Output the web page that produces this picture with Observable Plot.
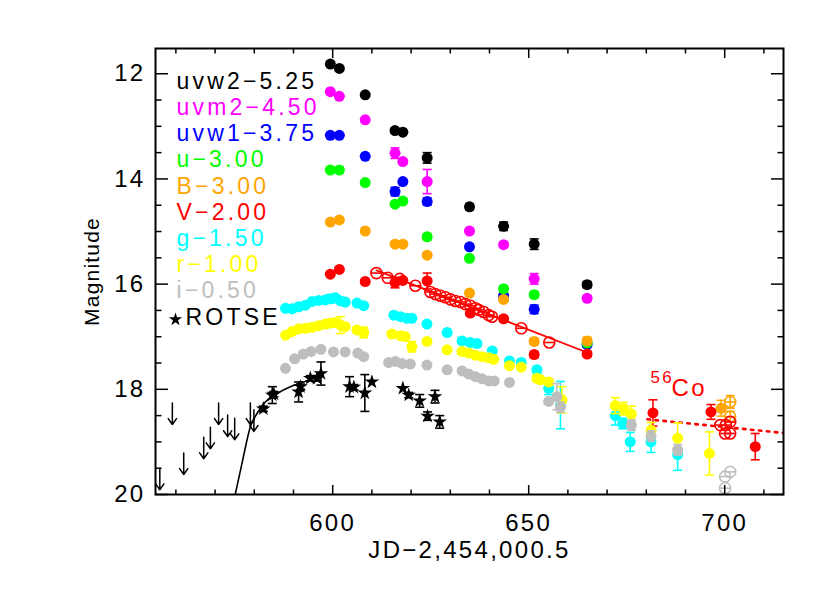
<!DOCTYPE html>
<html><head><meta charset="utf-8">
<script src="https://cdn.jsdelivr.net/npm/d3@7"></script>
<script src="https://cdn.jsdelivr.net/npm/@observablehq/plot@0.6"></script>
<style>
body{margin:0;background:#fff;}
svg text{letter-spacing:2.3px;}
</style></head>
<body><div id="chart"></div>
<script>
// ---- data (plotted magnitudes, offsets already applied) ----
const uvw2T = [599.4, 601.7, 608.3, 615.9, 617.9, 624.1, 634.9, 643.6, 651.4, 664.9];
const uvw2M = [11.815, 11.90, 12.40, 13.08, 13.11, 13.60, 14.53, 14.90, 15.24, 16.01];
const uvw2E = [0, 0, 0, 0.04, 0, 0.1, 0.06, 0.08, 0.1, 0.06];

const uvm2T = [599.4, 601.7, 608.3, 615.9, 617.9, 624.1, 634.9, 643.6, 651.4, 664.9];
const uvm2M = [12.34, 12.43, 12.875, 13.51, 13.67, 14.05, 14.99, 15.25, 15.90, 16.27];
const uvm2E = [0, 0, 0, 0.1, 0, 0.23, 0.05, 0.05, 0.1, 0.05];

const uvw1T = [599.4, 601.7, 608.3, 615.9, 617.9, 624.1, 634.9, 643.6, 651.4, 664.9];
const uvw1M = [13.17, 13.17, 13.57, 14.24, 14.05, 14.43, 15.29, 16.22, 16.48, 17.15];
const uvw1E = [0, 0, 0, 0.08, 0, 0.07, 0.05, 0, 0.08, 0];

const uT = [599.4, 601.7, 608.3, 615.9, 617.9, 624.1, 634.9, 643.6, 651.4, 664.9];
const uM = [13.83, 13.83, 14.07, 14.48, 14.42, 15.10, 15.51, 16.09, 16.20, 17.12];
const uE = [0, 0, 0, 0, 0, 0.06, 0.05, 0.06, 0.06, 0];

const bT = [599.4, 601.7, 608.3, 615.9, 617.9, 624.1, 634.9, 643.6, 651.4, 664.9, 699.1];
const bM = [14.82, 14.78, 14.99, 15.24, 15.24, 15.45, 16.17, 16.29, 17.09, 17.08, 18.36];
const bE = [0, 0, 0, 0, 0, 0.04, 0.05, 0.05, 0.06, 0.07, 0.15];
const bOpenT = [701.4, 701.4];
const bOpenM = [18.24, 18.52];
const bOpenE = [0.12, 0.1];

const vT = [599.4, 601.7, 608.3, 615.9, 617.9, 624.1, 635.1, 643.6, 651.4, 664.9, 681.7, 696.5, 707.8];
const vM = [15.81, 15.72, 15.95, 15.97, 15.93, 15.94, 16.55, 16.66, 17.34, 17.33, 18.45, 18.43, 19.09];
const vE = [0, 0, 0, 0.1, 0, 0.15, 0.05, 0.05, 0.06, 0.05, 0.25, 0.14, 0.25];
const vOpenT = [611.15, 614.03, 617.09, 621.09, 624.92, 626.19, 627.47, 628.74, 630.02, 631.29, 632.57, 633.84, 635.12, 636.39, 637.23, 638.51, 639.78, 640.65, 648.12, 655.26, 698.9, 700.3, 701.4, 700.1, 701.4];
const vOpenM = [15.79, 15.88, 15.90, 16.03, 16.15, 16.19, 16.22, 16.25, 16.29, 16.32, 16.34, 16.38, 16.41, 16.46, 16.49, 16.53, 16.59, 16.62, 16.84, 17.11, 18.68, 18.68, 18.62, 18.84, 18.84];

const gT = [587.95, 589.65, 591.34, 593.05, 594.75, 596.44, 598.15, 599.4, 600.7, 602.0, 603.2, 606.2, 607.9, 615.6, 617.3, 619.0, 620.2, 624.05, 629.2, 633.0, 635.1, 636.8, 640.7, 645.1, 648.1, 652.1, 655.1, 658.1, 672.1, 674.0, 675.9, 681.2, 688.0];
const gM = [16.46, 16.47, 16.43, 16.40, 16.33, 16.31, 16.30, 16.28, 16.26, 16.32, 16.34, 16.36, 16.41, 16.59, 16.62, 16.65, 16.65, 16.76, 16.92, 17.08, 17.11, 17.13, 17.27, 17.46, 17.49, 17.63, 17.98, 18.30, 18.50, 18.65, 19.00, 19.00, 19.24];
const gE = [0, 0, 0, 0, 0, 0, 0, 0.08, 0, 0, 0, 0, 0, 0, 0, 0, 0, 0, 0, 0.05, 0.05, 0.05, 0, 0.05, 0.06, 0.06, 0.12, 0.45, 0.18, 0.1, 0.18, 0.2, 0.3];

const rT = [588.0, 589.65, 591.34, 593.05, 594.75, 596.44, 598.15, 599.4, 600.7, 602.0, 603.2, 606.2, 607.9, 615.1, 617.3, 618.5, 620.2, 624.05, 629.2, 633.0, 634.7, 636.4, 638.1, 639.8, 641.1, 645.1, 648.1, 652.1, 653.0, 655.1, 658.5, 672.1, 674.2, 676.2, 681.2, 688.0, 696.1];
const rM = [16.97, 16.90, 16.85, 16.84, 16.82, 16.79, 16.76, 16.74, 16.73, 16.78, 16.81, 16.87, 16.92, 16.95, 16.98, 17.00, 17.19, 17.09, 17.25, 17.28, 17.31, 17.35, 17.38, 17.40, 17.43, 17.55, 17.58, 17.79, 17.82, 17.86, 18.20, 18.31, 18.37, 18.47, 18.78, 18.93, 19.22];
const rE = [0, 0, 0, 0, 0, 0, 0, 0, 0, 0.16, 0, 0, 0.1, 0, 0, 0, 0.1, 0, 0, 0, 0, 0, 0, 0, 0, 0, 0, 0.06, 0, 0.06, 0.25, 0.15, 0.12, 0.15, 0.15, 0.29, 0.41];

const iT = [587.95, 590.3, 592.5, 594.5, 597.0, 600.2, 603.2, 606.4, 607.9, 614.3, 616.0, 617.7, 619.8, 624.05, 629.2, 633.0, 634.7, 636.4, 638.1, 639.8, 641.2, 645.1, 655.1, 657.2, 658.1, 676.2, 681.2, 688.0];
const iM = [17.60, 17.42, 17.33, 17.28, 17.24, 17.29, 17.29, 17.31, 17.38, 17.49, 17.47, 17.51, 17.52, 17.54, 17.63, 17.65, 17.71, 17.76, 17.80, 17.84, 17.84, 17.87, 18.23, 18.14, 18.34, 18.68, 18.89, 19.15];
const iE = [0, 0, 0, 0, 0, 0, 0, 0, 0, 0, 0, 0, 0, 0, 0, 0, 0, 0, 0, 0, 0, 0, 0, 0.25, 0.1, 0.1, 0.1, 0.1];
const iOpenT = [700.1, 701.4, 700.1];
const iOpenM = [19.66, 19.57, 19.88];

const rotseT = [582.3, 584.6, 585.0, 591.3, 591.8, 594.3, 596.0, 597.0, 604.3, 605.4, 608.2, 610.0, 617.9, 619.4, 622.2, 624.2, 626.1, 627.3];
const rotseM = [18.37, 18.11, 18.09, 18.05, 17.95, 17.79, 17.79, 17.70, 17.95, 17.96, 18.07, 17.86, 17.98, 18.11, 18.22, 18.51, 18.14, 18.62];
const rotseE = [0.05, 0.16, 0.05, 0.19, 0.05, 0.05, 0.05, 0.22, 0.19, 0.05, 0.35, 0, 0, 0.05, 0.12, 0.08, 0.12, 0.12];

const limT = [555.9, 559.1, 562.0, 567.1, 568.8, 570.9, 573.2, 575.0, 579.0, 579.9];
const limM = [19.50, 18.26, 19.21, 18.91, 18.72, 18.26, 18.49, 18.55, 18.26, 18.39];

const riseT = [575.2, 577.0, 579.0, 580.7, 582.8, 585.8, 589.2, 592.6, 595.2];
const riseM = [19.98, 19.36, 18.71, 18.46, 18.24, 18.08, 17.95, 17.86, 17.79];

const fitT = [611.2, 664.9];
const fitM = [15.74, 17.30];
const coT = [680.3, 715.0];
const coM = [18.57, 18.83];

const legendLabels = ["uvw2−5.25", "uvm2−4.50", "uvw1−3.75", "u−3.00", "B−3.00", "V−2.00", "g−1.50", "r−1.00", "i−0.50"];
const legendColors = ["#000000", "#ff00ff", "#0000ff", "#00ff00", "#ffa500", "#ff0000", "#00ffff", "#ffff00", "#bebebe"];

const xMajorTicks = [600, 650, 700];
const xMinorTicks = [560, 570, 580, 590, 610, 620, 630, 640, 660, 670, 680, 690, 710];
const yMajorTicks = [12, 14, 16, 18, 20];
const yMinorTicks = [12.5, 13, 13.5, 14.5, 15, 15.5, 16.5, 17, 17.5, 18.5, 19, 19.5];

// ---- helpers ----
const cap = {draw(ctx, size) { const r = Math.sqrt(size / Math.PI); ctx.moveTo(-r, 0); ctx.lineTo(r, 0); }};
const rows = (t, m, e) => t.map((x, i) => ({t: x, m: m[i], e: e ? e[i] : 0}));

function errMarks(d, color) {
  const de = d.filter(r => r.e > 0);
  return [
    Plot.ruleX(de, {x: "t", y1: r => r.m - r.e, y2: r => r.m + r.e, stroke: color, strokeWidth: 1.6}),
    Plot.dot(de, {x: "t", y: r => r.m - r.e, symbol: cap, r: 4.5, stroke: color, fill: "none", strokeWidth: 1.6}),
    Plot.dot(de, {x: "t", y: r => r.m + r.e, symbol: cap, r: 4.5, stroke: color, fill: "none", strokeWidth: 1.6})
  ];
}
function filled(t, m, e, color) {
  const d = rows(t, m, e);
  return [...errMarks(d, color), Plot.dot(d, {x: "t", y: "m", r: 5.5, fill: color, stroke: "none"})];
}
function open(t, m, e, color) {
  const d = rows(t, m, e);
  return [...errMarks(d, color),
    Plot.dot(d, {x: "t", y: "m", r: 5.5, fill: "none", stroke: color, strokeWidth: 1.6}),
    Plot.dot(d, {x: "t", y: "m", symbol: cap, r: 5, fill: "none", stroke: color, strokeWidth: 1.6})];
}

const rotse = rows(rotseT, rotseM, rotseE);
const lims = rows(limT, limM);

const legendMarks = legendLabels.map((lab, i) => Plot.text([lab], {
  frameAnchor: "top-left", dx: 21, dy: 33 + 26.2 * i, textAnchor: "start", lineAnchor: "middle",
  fill: legendColors[i], fontSize: 23
}));

const chart = Plot.plot({
  width: 830, height: 593,
  marginLeft: 155, marginRight: 47, marginTop: 48, marginBottom: 99,
  x: {domain: [554.8, 715.0]},
  y: {domain: [20, 11.52]},
  style: {fontFamily: "'Liberation Sans', Arial, Helvetica, sans-serif", background: "#fff", color: "#000"},
  marks: [
    // curves
    Plot.line(rows(riseT, riseM), {x: "t", y: "m", curve: "monotone-x", stroke: "#000", strokeWidth: 1.6, clip: true}),
    Plot.line(rows(fitT, fitM), {x: "t", y: "m", stroke: "#ff0000", strokeWidth: 1.8}),
    Plot.line(rows(coT, coM), {x: "t", y: "m", stroke: "#ff0000", strokeWidth: 2.6, strokeDasharray: "2.5,5.5", clip: true}),
    // upper limits
    Plot.arrow(lims, {x1: "t", x2: "t", y1: "m", y2: d => d.m + 0.41, stroke: "#000", strokeWidth: 1.5, headLength: 9, headAngle: 70}),
    // ROTSE
    ...errMarks(rotse, "#000"),
    Plot.dot(rotse, {x: "t", y: "m", symbol: "star", r: 4.6, fill: "#000"}),
    // Swift / optical bands
    ...filled(uvw2T, uvw2M, uvw2E, legendColors[0]),
    ...filled(uvm2T, uvm2M, uvm2E, legendColors[1]),
    ...filled(uvw1T, uvw1M, uvw1E, legendColors[2]),
    ...filled(uT, uM, uE, legendColors[3]),
    ...filled(bT, bM, bE, legendColors[4]),
    ...open(bOpenT, bOpenM, bOpenE, legendColors[4]),
    ...filled(vT, vM, vE, legendColors[5]),
    ...open(vOpenT, vOpenM, null, legendColors[5]),
    ...filled(gT, gM, gE, legendColors[6]),
    ...filled(rT, rM, rE, legendColors[7]),
    ...filled(iT, iM, iE, legendColors[8]),
    ...open(iOpenT, iOpenM, null, legendColors[8]),
    // annotations
    Plot.text(["56"], {frameAnchor: "top-left", dx: 650 - 155, dy: 377 - 48, fill: "#ff0000", fontSize: 17, textAnchor: "start", lineAnchor: "middle"}),
    Plot.text(["Co"], {frameAnchor: "top-left", dx: 671 - 155, dy: 388 - 48, fill: "#ff0000", fontSize: 24, textAnchor: "start", lineAnchor: "middle"}),
    ...legendMarks,
    Plot.dot([0], {frameAnchor: "top-left", dx: 20, dy: 271, symbol: "star", r: 4.2, fill: "#000"}),
    Plot.text(["ROTSE"], {frameAnchor: "top-left", dx: 30, dy: 33 + 26.2 * 9, textAnchor: "start", lineAnchor: "middle", fill: "#000", fontSize: 23}),
    // axes (inward ticks on all four sides)
    Plot.frame({stroke: "#000", strokeWidth: 2}),
    Plot.axisX(xMinorTicks, {anchor: "bottom", tickSize: -4.5, tickFormat: () => "", label: null, strokeWidth: 1.5}),
    Plot.axisX(xMajorTicks, {anchor: "bottom", tickSize: -9, tickFormat: () => "", label: null, strokeWidth: 1.5}),
    Plot.axisX(xMinorTicks, {anchor: "top", tickSize: -4.5, tickFormat: () => "", label: null, strokeWidth: 1.5}),
    Plot.axisX(xMajorTicks, {anchor: "top", tickSize: -9, tickFormat: () => "", label: null, strokeWidth: 1.5}),
    Plot.axisY(yMinorTicks, {anchor: "left", tickSize: -6.5, tickFormat: () => "", label: null, strokeWidth: 1.5}),
    Plot.axisY(yMajorTicks, {anchor: "left", tickSize: -13, tickFormat: () => "", label: null, strokeWidth: 1.5}),
    Plot.axisY(yMinorTicks, {anchor: "right", tickSize: -6.5, tickFormat: () => "", label: null, strokeWidth: 1.5}),
    Plot.axisY(yMajorTicks, {anchor: "right", tickSize: -13, tickFormat: () => "", label: null, strokeWidth: 1.5}),
    Plot.axisX(xMajorTicks, {anchor: "bottom", tickSize: 0, tickPadding: 19, fontSize: 24, label: null, tickFormat: d => String(d)}),
    Plot.axisY(yMajorTicks, {anchor: "left", tickSize: 0, tickPadding: 10, fontSize: 24, label: null, tickFormat: d => String(d)}),
    Plot.text(["JD−2,454,000.5"], {frameAnchor: "bottom", dy: 56, fontSize: 24, textAnchor: "middle", lineAnchor: "middle", fill: "#000"}),
    Plot.text(["Magnitude"], {frameAnchor: "left", dx: -63, rotate: -90, fontSize: 21, textAnchor: "middle", lineAnchor: "middle", fill: "#000"})
  ]
});
// wider spacing for the in-plot legend text (reference font is drawn wide)
const legendSet = new Set([...legendLabels, "ROTSE"]);
d3.select(chart).selectAll("text").filter(function() { return legendSet.has(this.textContent); })
  .style("letter-spacing", "3.2px");
d3.select(chart).selectAll("text").filter(function() { return this.textContent === "Magnitude"; })
  .style("letter-spacing", "1.2px");
document.getElementById("chart").appendChild(chart);
</script>
</body></html>
